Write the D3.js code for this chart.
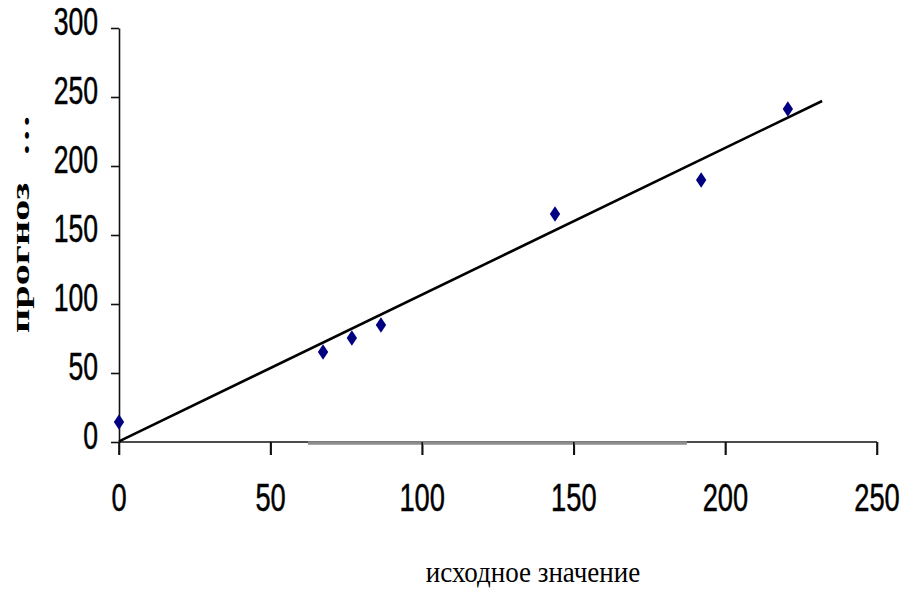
<!DOCTYPE html>
<html>
<head>
<meta charset="utf-8">
<script src="https://cdn.jsdelivr.net/npm/d3@7/dist/d3.min.js"></script>
<style>
  html, body { margin: 0; padding: 0; background: #fff; }
  svg { display: block; }
</style>
</head>
<body>
<svg id="chart" width="903" height="590"></svg>
<script>
// Observed values (исходное значение) and predicted values (прогноз)
const actual    = [0, 67.3, 76.8, 86.4, 143.8, 192.0, 220.6];
const predicted = [14.5, 65.2, 75.4, 84.8, 165.2, 189.9, 241.3];

// Trend line end points [x, y]
const trendX = [0, 231.9];
const trendY = [0.5, 247.1];

// Tick values
const xTicks = [0, 50, 100, 150, 200, 250];
const yTicks = [0, 50, 100, 150, 200, 250, 300];

// Lighter stretch of the horizontal axis line (x units)
const axisShade = [62.3, 187.3];

const svg = d3.select("#chart");

const x = d3.scaleLinear().domain([0, 250]).range([119, 877]);
const y = d3.scaleLinear().domain([0, 300]).range([442, 28]);

const tickFont = "'Liberation Sans', Arial, sans-serif";
const serif = "'Liberation Serif', 'Times New Roman', serif";

// Axes
const xAxis = svg.append("g").attr("transform", `translate(0,${y(0)})`)
  .call(d3.axisBottom(x).tickValues(xTicks).tickSize(13).tickFormat(""));
const yAxis = svg.append("g").attr("transform", `translate(${x(0)},0)`)
  .call(d3.axisLeft(y).tickValues(yTicks).tickSize(8).tickSizeOuter(0).tickFormat(""));

[xAxis, yAxis].forEach(g => {
  g.select(".domain").attr("stroke", "#111").attr("stroke-width", 1.6);
  g.selectAll(".tick line").attr("stroke", "#111").attr("stroke-width", 1.6);
});
xAxis.select(".domain").attr("d", `M${x(0)},0H${x(250)}`);

svg.append("line")
  .attr("x1", x(axisShade[0])).attr("x2", x(axisShade[1]))
  .attr("y1", y(0) + 1).attr("y2", y(0) + 1)
  .attr("stroke", "#8c8c8c").attr("stroke-width", 3.5);

// redraw tick marks over the shaded stretch
svg.append("g").selectAll("line").data(xTicks).join("line")
  .attr("x1", d => x(d)).attr("x2", d => x(d))
  .attr("y1", y(0)).attr("y2", y(0) + 13)
  .attr("stroke", "#111").attr("stroke-width", 1.6);

// Tick labels (narrow, tall digits)
svg.append("g").selectAll("text").data(xTicks).join("text")
  .attr("transform", d => `translate(${x(d)},${y(0) + 69}) scale(0.7,1)`)
  .attr("text-anchor", "middle")
  .attr("font-family", tickFont).attr("font-size", 39)
  .attr("fill", "#000").attr("stroke", "#000").attr("stroke-width", 0.5)
  .text(d => d);

svg.append("g").selectAll("text").data(yTicks).join("text")
  .attr("transform", d => `translate(98,${y(d) + 7}) scale(0.7,1)`)
  .attr("text-anchor", "end")
  .attr("font-family", tickFont).attr("font-size", 38)
  .attr("fill", "#000").attr("stroke", "#000").attr("stroke-width", 0.5)
  .text(d => d);

// Trend line
svg.append("line")
  .attr("x1", x(trendX[0])).attr("y1", y(trendY[0]))
  .attr("x2", x(trendX[1])).attr("y2", y(trendY[1]))
  .attr("stroke", "#000").attr("stroke-width", 2.6);

// Data points as diamonds
const diamond = d3.symbol().type(d3.symbolDiamond).size(70);
svg.append("g").selectAll("path").data(actual.map((a, i) => [a, predicted[i]])).join("path")
  .attr("transform", d => `translate(${x(d[0])},${y(d[1])}) scale(1.15,1)`)
  .attr("d", diamond())
  .attr("fill", "#000080");

// Axis titles
svg.append("text")
  .attr("transform", "translate(533,582) scale(0.9,1)")
  .attr("text-anchor", "middle")
  .attr("font-family", serif).attr("font-size", 30)
  .attr("fill", "#000")
  .text("исходное значение");

const yTitle = svg.append("g").attr("transform", "translate(29,333) rotate(-90) scale(1.62,1)");
yTitle.append("text")
  .attr("font-family", serif).attr("font-size", 26).attr("font-weight", "bold")
  .attr("fill", "#000")
  .text("прогноз");
yTitle.append("text")
  .attr("x", 109)
  .attr("font-family", serif).attr("font-size", 26).attr("font-weight", "bold")
  .attr("fill", "#000")
  .text("…");
</script>
</body>
</html>
